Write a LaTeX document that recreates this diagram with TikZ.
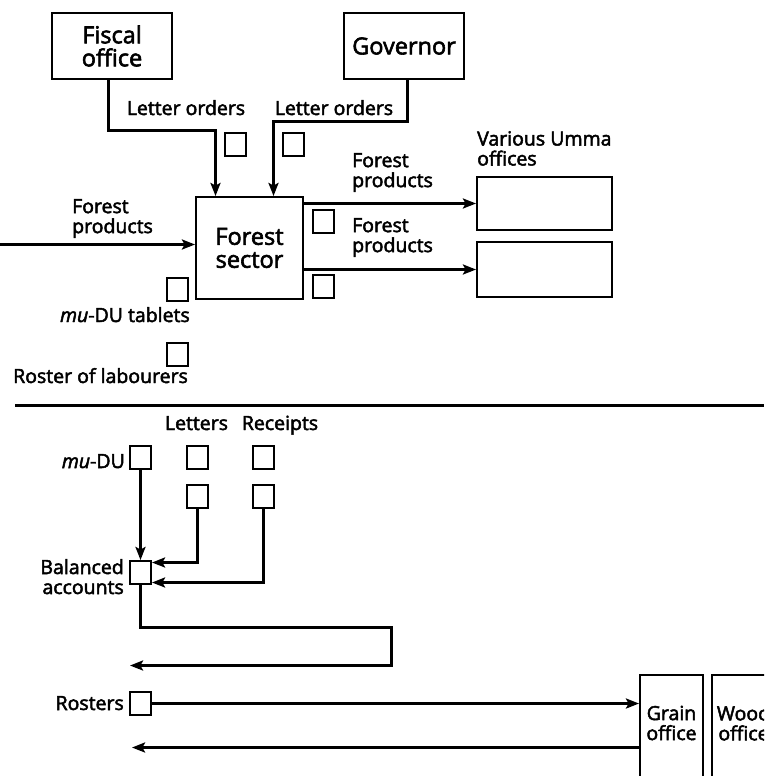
\documentclass[tikz,border=0pt]{standalone}
\usepackage{fontspec}
\setmainfont{Open Sans}[FakeBold=2.5]
\usetikzlibrary{arrows.meta}

\begin{document}
\begin{tikzpicture}[x=1pt, y=-1pt, >={Stealth[length=13pt,width=10pt,inset=2.5pt]}]
	\tikzstyle{arr}=[->, line width=2.6pt]
	\tikzstyle{office}=[draw=black, line width=2pt, align=center, inner sep=0pt, font=\fontsize{23.5}{23}\selectfont]
	\tikzstyle{doc}=[draw=black, line width=2pt, minimum width=21pt, minimum height=23pt, inner sep=0pt]
	\tikzstyle{dept}=[draw=black, line width=2pt, minimum width=63pt, minimum height=130pt, inner sep=0pt]
	\tikzstyle{lbl}=[inner sep=0pt, font=\fontsize{19.5}{20}\selectfont]
	
	\useasboundingbox (0,0) rectangle (764,776);
	\clip (0,0) rectangle (764,776);
	
	% upper half
	\node at (112,46) [office, minimum width=120pt, minimum height=66pt] (fiscal) {Fiscal\\office};
	\node at (404,46) [office, minimum width=120pt, minimum height=66pt] (gov) {Governor};
	\node at (249.5,248) [office, minimum width=107pt, minimum height=102pt] (sector) {Forest\\sector};
	\node at (544.5,203.5) [doc, minimum width=135pt, minimum height=53pt] (umma1) {};
	\node at (544.5,269.5) [doc, minimum width=135pt, minimum height=55pt] (umma2) {};
	
	\node at (235.5,144.5) [doc] (d1) {};
	\node at (293.5,144.5) [doc] (d2) {};
	\node at (323,221) [doc] (d3) {};
	\node at (323,286) [doc] (d4) {};
	\node at (177.5,289.5) [doc] (d5) {};
	\node at (177.5,354) [doc] (d6) {};
	
	\node at (186,115) [lbl, anchor=base] (lo1) {Letter orders};
	\node at (334,115) [lbl, anchor=base] (lo2) {Letter orders};
	\node at (72,199) [lbl, anchor=north west, align=left] (fp0) {Forest\\products};
	\node at (352,153) [lbl, anchor=north west, align=left] (fp1) {Forest\\products};
	\node at (352,218) [lbl, anchor=north west, align=left] (fp2) {Forest\\products};
	\node at (477,131) [lbl, anchor=north west, align=left] (umma) {Various Umma\\offices};
	\node at (190,322) [lbl, anchor=base east] (tab) {\textit{mu}-DU tablets};
	\node at (13,383) [lbl, anchor=base west] (rol) {Roster of labourers};
	
	\coordinate (fk) at (215.5,130.5);
	\coordinate (gk) at (273.5,121.5);
	\coordinate (in) at (0,244.5);
	
	\draw [arr] ([xshift=-3.5pt]fiscal.south) |- (fk) -- (fk |- sector.north);
	\draw [arr] ([xshift=3.5pt]gov.south) |- (gk) -- (gk |- sector.north);
	\draw [arr] (in) -- (in -| sector.west);
	\draw [arr] (umma1.west -| sector.east) -- (umma1.west);
	\draw [arr] (umma2.west -| sector.east) -- (umma2.west);
	
	\coordinate (dl) at (15,405.5);
	\coordinate (dr) at (764,405.5);
	\draw [line width=2.6pt] (dl) -- (dr);
	
	% lower half
	\node at (140.5,457.5) [doc] (mudu) {};
	\node at (197.5,457.5) [doc] (let1) {};
	\node at (197.5,496) [doc] (let2) {};
	\node at (263.5,457.5) [doc] (rec1) {};
	\node at (263.5,496) [doc] (rec2) {};
	\node at (140.5,572.5) [doc] (bal) {};
	\node at (140.5,703.5) [doc] (rost) {};
	\node at (671.5,740) [dept] (grain) {};
	\node at (743.5,740) [dept] (wood) {};
	
	\node at (196.5,430) [lbl, anchor=base] (letters) {Letters};
	\node at (280,430) [lbl, anchor=base] (receipts) {Receipts};
	\node at (125,468) [lbl, anchor=base east] (mudulbl) {\textit{mu}-DU};
	\node at (124,559) [lbl, anchor=north east, align=right] (ballbl) {Balanced\\accounts};
	\node at (124,710) [lbl, anchor=base east] (rostlbl) {Rosters};
	\node at (671.5,723) [lbl, align=center] (graintxt) {Grain\\office};
	\node at (743.5,723) [lbl, align=center] (woodtxt) {Wood\\office};
	
	\coordinate (turn) at (391.5,627.5);
	\coordinate (out1) at (130,665.5);
	\coordinate (out2) at (132,747.5);
	
	\draw [arr] (mudu) -- (bal);
	\draw [arr] (let2.south) |- ([yshift=-2.5pt]bal.north east);
	\draw [arr] (rec2.south) |- ([yshift=2.5pt]bal.south east);
	\draw [arr] (bal.south) |- (turn) |- (out1);
	\draw [arr] (rost.east) -- (rost.east -| grain.west);
	\draw [arr] (out2 -| grain.west) -- (out2);
\end{tikzpicture}
\end{document}
